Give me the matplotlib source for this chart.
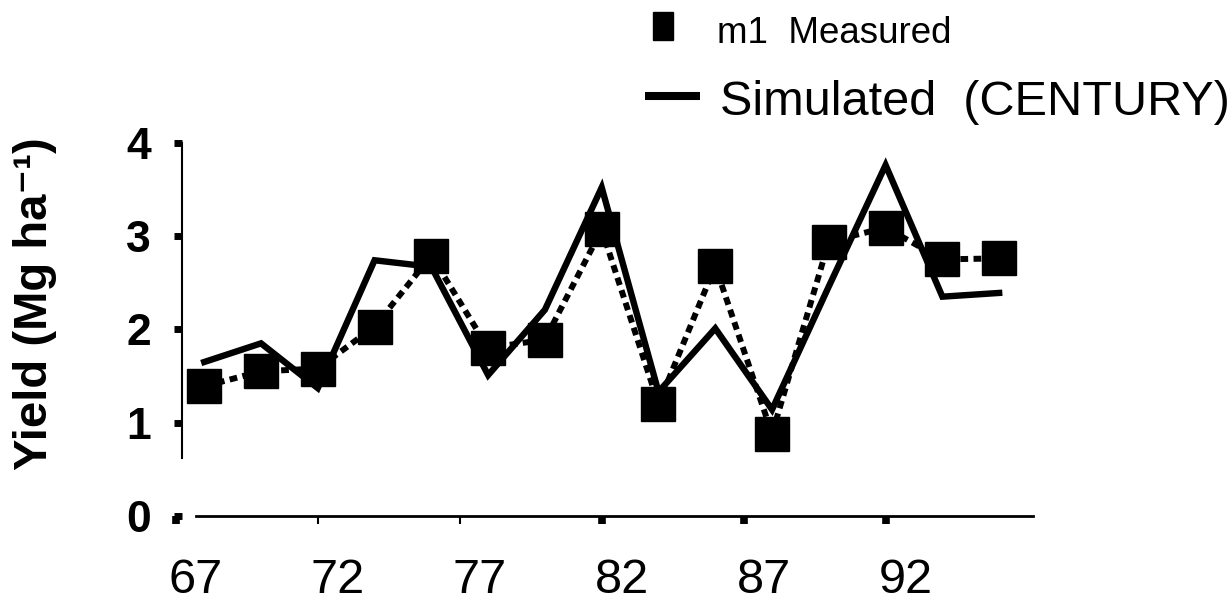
import matplotlib
matplotlib.use("Agg")
import matplotlib.pyplot as plt
from matplotlib.lines import Line2D
from matplotlib.patches import Rectangle
from matplotlib.transforms import ScaledTranslation

# ---- data ----
years = [68, 70, 72, 74, 76, 78, 80, 82, 84, 86, 88, 90, 92, 94, 96]
measured = [1.39, 1.55, 1.58, 2.03, 2.79, 1.80, 1.89, 3.07, 1.20, 2.68, 0.88, 2.94, 3.09, 2.75, 2.76]
simulated = [1.65, 1.85, 1.37, 2.74, 2.67, 1.51, 2.21, 3.52, 1.33, 2.01, 1.14, 2.46, 3.76, 2.35, 2.39]
xtick_vals = [67, 72, 77, 82, 87, 92]
xtick_labels = ["67", "72", "77", "82", "87", "92"]
ytick_vals = [0, 1, 2, 3, 4]
ylabel_text = "Yield (Mg ha\u207b\u00b9)"
legend_measured = "m1  Measured"
legend_simulated = "Simulated  (CENTURY)"

plt.rcParams['font.family'] = ['Liberation Sans', 'DejaVu Sans']

W, H = 1231, 605
fig = plt.figure(figsize=(W / 100, H / 100), dpi=100)

# axes placed in pixel terms
x_lo, x_hi = 66.8, 97.2
ppy = 28.39
left_px = 885.6 + (x_lo - 92) * ppy
right_px = 885.6 + (x_hi - 92) * ppy
y0_px, ppu = 516.0, 93.33
y_hi = 4.05
ax = fig.add_axes([left_px / W, (H - y0_px) / H,
                   (right_px - left_px) / W, y_hi * ppu / H])
ax.set_xlim(x_lo, x_hi)
ax.set_ylim(0, y_hi)

# measured: dotted line with square markers
ax.plot(years, measured, color='black', lw=4.3, linestyle=(0, (1.3, 0.9)),
        dash_capstyle='butt', marker='s', markersize=25, zorder=3, clip_on=False)
# simulated: solid line
ax.plot(years, simulated, color='black', lw=4.6, solid_joinstyle='miter',
        zorder=4, clip_on=False)

# spines
for s in ['top', 'right']:
    ax.spines[s].set_visible(False)
ax.spines['left'].set_position(('data', 67.23))
ax.spines['left'].set_bounds(0.62, 4.0)
ax.spines['left'].set_linewidth(1.5)
ax.spines['bottom'].set_bounds(67.7, x_hi)
ax.spines['bottom'].set_linewidth(2.0)

# ticks
ax.set_yticks(ytick_vals)
ax.tick_params(axis='y', direction='out', length=5.5, width=5, pad=17,
               labelsize=32)
for lab in ax.get_yticklabels():
    lab.set_fontweight('bold')
ax.set_xticks(xtick_vals)
ax.set_xticklabels(xtick_labels)
ax.tick_params(axis='x', direction='out', length=5.5, width=5.5, pad=25,
               labelsize=35)
ticks = ax.xaxis.get_major_ticks()
for i in (1, 2):
    ticks[i].tick1line.set_markeredgewidth(1.5)
offset = ScaledTranslation(20 / 100, 0, fig.dpi_scale_trans)
for lab in ax.get_xticklabels():
    lab.set_transform(lab.get_transform() + offset)

# y label
fig.text(35 / W, 1 - 304 / H, ylabel_text, rotation=90, ha='center', va='center',
         fontsize=34, fontweight='bold')

# legend (drawn manually to mimic layout)
fig.add_artist(Rectangle((653 / W, 1 - 40 / H), 20 / W, 28 / H,
                         transform=fig.transFigure, color='black'))
fig.text(717 / W, 1 - 43 / H, legend_measured, ha='left', va='baseline',
         fontsize=26.5)
fig.add_artist(Line2D([645 / W, 700 / W], [1 - 96 / H, 1 - 96 / H],
                      transform=fig.transFigure, color='black', lw=5.8,
                      solid_capstyle='butt'))
fig.text(720 / W, 1 - 115 / H, legend_simulated, ha='left', va='baseline',
         fontsize=35)

fig.savefig("out.png", dpi=100)
